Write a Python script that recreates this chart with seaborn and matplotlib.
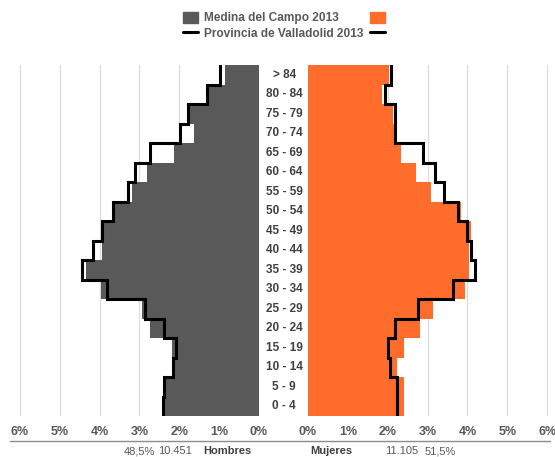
import numpy as np
import pandas as pd
import seaborn as sns
import matplotlib.pyplot as plt
from matplotlib.patches import Patch
from matplotlib.lines import Line2D
from matplotlib.ticker import FuncFormatter

sns.set_style('white')
plt.rcParams['font.family'] = ['Liberation Sans', 'DejaVu Sans']

# %%
# data read off the pyramid (% of total population)
ages = ["> 84", "80 - 84", "75 - 79", "70 - 74", "65 - 69", "60 - 64", "55 - 59", "50 - 54", "45 - 49",
        "40 - 44", "35 - 39", "30 - 34", "25 - 29", "20 - 24", "15 - 19", "10 - 14", "5 - 9", "0 - 4"]
medina_hombres = [0.85, 1.26, 1.74, 1.62, 2.14, 2.81, 3.18, 3.64, 3.92,
                  3.95, 4.33, 3.97, 2.93, 2.74, 2.18, 2.12, 2.37, 2.37]
provincia_hombres = [0.99, 1.30, 1.78, 1.98, 2.74, 3.12, 3.28, 3.66, 3.94,
                     4.17, 4.43, 3.81, 2.87, 2.38, 2.08, 2.15, 2.38, 2.41]
medina_mujeres = [2.03, 1.86, 2.13, 2.15, 2.33, 2.72, 3.08, 3.84, 4.09,
                  4.03, 4.03, 3.94, 3.13, 2.82, 2.40, 2.22, 2.40, 2.42]
provincia_mujeres = [2.08, 1.93, 2.19, 2.19, 2.88, 3.18, 3.40, 3.76, 3.99,
                     4.09, 4.18, 3.63, 2.76, 2.19, 2.01, 2.05, 2.23, 2.23]
xticks = [0, 1, 2, 3, 4, 5, 6]
totales = {"Hombres": ("48,5%", "10.451"), "Mujeres": ("11.105", "51,5%")}
legend_labels = ["Medina del Campo 2013", "Provincia de Valladolid 2013"]

gray = "#595959"
orange = "#ff6c2b"
txt = "#595959"

df = pd.DataFrame({"age": ages, "mh": medina_hombres, "ph": provincia_hombres,
                   "mm": medina_mujeres, "pm": provincia_mujeres})

fig = plt.figure(figsize=(5.55, 4.57), dpi=100)
ax_l = fig.add_axes([19 / 555, 1 - 416 / 457, 240 / 555, 351 / 457])
ax_r = fig.add_axes([308 / 555, 1 - 416 / 457, 240 / 555, 351 / 457])


def step_outline(values):
    # vertical segment over each category band, joined by horizontal steps
    pos = np.arange(len(values))
    ys = np.column_stack([pos - 0.5, pos + 0.5]).ravel()
    xs = np.repeat(values, 2)
    return xs, ys


for ax, col, prov, color in [(ax_l, "mh", "ph", gray), (ax_r, "mm", "pm", orange)]:
    sns.barplot(data=df, x=col, y="age", orient="h", color=color, width=1.0,
                linewidth=0, saturation=1, ax=ax)
    xs, ys = step_outline(df[prov].values)
    ax.plot(xs, ys, color="black", lw=2.2, solid_joinstyle="miter", zorder=5)
    ax.set_ylim(len(ages) - 0.5, -0.5)
    ax.set_yticks([])
    ax.set_xticks(xticks)
    ax.xaxis.set_major_formatter(FuncFormatter(lambda v, p: f"{v:.0f}%"))
    ax.tick_params(axis="x", length=0, pad=7, labelsize=9, labelcolor=txt)
    for lab in ax.get_xticklabels():
        lab.set_fontweight("bold")
    ax.grid(axis="x", color="#d9d9d9", lw=0.8)
    ax.set_axisbelow(True)
    ax.set_xlabel("")
    ax.set_ylabel("")
    for s in ax.spines.values():
        s.set_visible(False)

ax_l.set_xlim(6.02, 0)
ax_r.set_xlim(0, 6.02)

# age labels in the gap between the panels
for i, a in enumerate(ages):
    ax_r.text(-0.6, i, a, ha="center", va="center", fontsize=8.5, fontweight="bold",
              color="#404040", clip_on=False)

# rule under the tick labels
fig.add_artist(Line2D([10 / 555, 550 / 555], [1 - 441 / 457] * 2, color="#8c8c8c", lw=1))

# totals
y_tot = 1 - 451 / 457
fig.text(155 / 555, y_tot, totales["Hombres"][0], ha="right", va="center", fontsize=8, color=txt)
fig.text(158 / 555, y_tot, totales["Hombres"][1], ha="left", va="center", fontsize=8, color=txt)
fig.text(203 / 555, y_tot, "Hombres", ha="left", va="center", fontsize=8, color="#404040", fontweight="bold")
fig.text(310 / 555, y_tot, "Mujeres", ha="left", va="center", fontsize=8, color="#404040", fontweight="bold")
fig.text(385 / 555, y_tot, totales["Mujeres"][0], ha="left", va="center", fontsize=8, color=txt)
fig.text(425 / 555, y_tot, totales["Mujeres"][1], ha="left", va="center", fontsize=8, color=txt)

# legend
handles = [Patch(color=gray), Line2D([], [], color="black", lw=2.2),
           Patch(color=orange), Line2D([], [], color="black", lw=2.2)]
labels = [legend_labels[0], legend_labels[1], "", ""]
leg = fig.legend(handles, labels, ncol=2, loc="upper left", bbox_to_anchor=(172 / 555, 0.998),
                 frameon=False, fontsize=8.6, handlelength=1.3, handleheight=1.1,
                 handletextpad=0.5, labelspacing=0.2, columnspacing=0.5)
for t in leg.get_texts():
    t.set_color(txt)
    t.set_fontweight("bold")

fig.savefig("out.png", dpi=100)
